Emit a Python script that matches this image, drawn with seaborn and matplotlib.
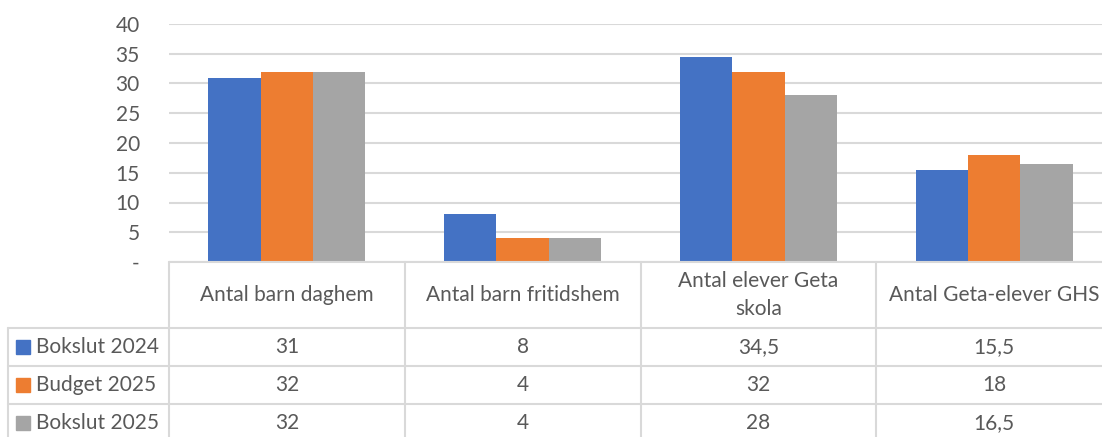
import pandas as pd
import seaborn as sns
import matplotlib.pyplot as plt
from matplotlib.lines import Line2D
from matplotlib.patches import Rectangle

# Data
categories = ['Antal barn daghem', 'Antal barn fritidshem', 'Antal elever Geta\nskola', 'Antal Geta-elever GHS']
series = ['Bokslut 2024', 'Budget 2025', 'Bokslut 2025']
bokslut_2024 = [31, 8, 34.5, 15.5]
budget_2025 = [32, 4, 32, 18]
bokslut_2025 = [32, 4, 28, 16.5]
colors = ['#4472C4', '#ED7D31', '#A5A5A5']

values = [bokslut_2024, budget_2025, bokslut_2025]
df = pd.DataFrame({
    'kategori': categories * 3,
    'serie': [s for s in series for _ in categories],
    'varde': bokslut_2024 + budget_2025 + bokslut_2025,
})

sns.set_style('white')
plt.rcParams['font.family'] = ['Lato', 'DejaVu Sans']
txt_color = '#595959'
grid_color = '#D9D9D9'
fs = 15

W, H = 1102, 437
fig = plt.figure(figsize=(W / 100, H / 100), dpi=100)

# plot area in pixels
left, right, top, bottom = 169, 1112, 24, 262
ax = fig.add_axes([left / W, 1 - bottom / H, (right - left) / W, (bottom - top) / H])

sns.barplot(data=df, x='kategori', y='varde', hue='serie', palette=colors,
            width=0.667, gap=0, saturation=1, legend=False, ax=ax, linewidth=0)

ax.set_ylim(0, 40)
ax.set_xlim(-0.5, 3.5)
ax.set_yticks(range(0, 41, 5))
ax.set_yticklabels(['-'] + [str(v) for v in range(5, 41, 5)], color=txt_color, fontsize=fs)
ax.tick_params(axis='y', length=0, pad=21)
ax.set_xticks([])
ax.set_xlabel('')
ax.set_ylabel('')
for s in ax.spines.values():
    s.set_visible(False)
ax.yaxis.grid(True, color=grid_color, linewidth=1.5)
ax.set_axisbelow(True)


def fx(x):
    return x / W


def fy(y):
    return 1 - y / H


def hline(x0, x1, y):
    fig.add_artist(Line2D([fx(x0), fx(x1)], [fy(y), fy(y)], color=grid_color, linewidth=1.5))


def vline(x, y0, y1):
    fig.add_artist(Line2D([fx(x), fx(x)], [fy(y0), fy(y1)], color=grid_color, linewidth=1.5))


# data table
col_w = (right - left) / len(categories)
row_y = [262, 328, 366, 404, 442]

hline(left, W, row_y[0])
for y in row_y[1:4]:
    hline(8, W, y)
vline(8, row_y[1], H)
for i in range(len(categories) + 1):
    vline(left + i * col_w, row_y[0], H)

for i, cat in enumerate(categories):
    cx = left + (i + 0.5) * col_w
    fig.text(fx(cx), fy((row_y[0] + row_y[1]) / 2), cat, ha='center', va='center',
             fontsize=fs, color=txt_color, linespacing=1.5)

for r, (name, vals, c) in enumerate(zip(series, values, colors)):
    cy = (row_y[r + 1] + row_y[r + 2]) / 2
    if r == 2:
        cy = 423
    fig.add_artist(Rectangle((fx(16), fy(cy + 7)), fx(14), 14 / H, color=c))
    fig.text(fx(36), fy(cy), name, ha='left', va='center', fontsize=fs, color=txt_color)
    for i, v in enumerate(vals):
        cx = left + (i + 0.5) * col_w
        label = f'{v:g}'.replace('.', ',')
        fig.text(fx(cx), fy(cy), label, ha='center', va='center', fontsize=fs, color=txt_color)

fig.savefig('out.png', dpi=100)
